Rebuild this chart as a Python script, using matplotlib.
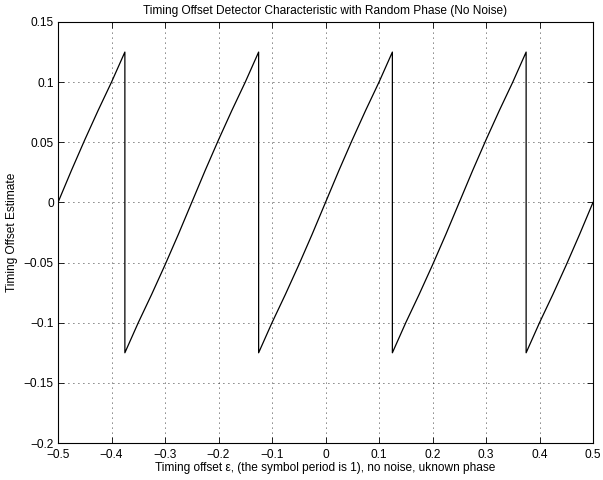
import matplotlib
matplotlib.use('Agg')
import matplotlib.pyplot as plt
import numpy as np

plt.rcParams['font.family'] = ['Liberation Sans', 'DejaVu Sans']

# one S-curve segment per symbol quarter, read as (offset from centre, estimate)
SEG_OFFSET = [-0.125, -0.1, -0.075, -0.05, -0.025, 0.0, 0.025, 0.05, 0.075, 0.1, 0.125]
SEG_VALUE = [-0.125, -0.100, -0.0765, -0.052, -0.0265, 0.0, 0.0265, 0.052, 0.0765, 0.100, 0.125]
# segment centres across the symbol period
CENTRES = [-0.5, -0.25, 0.0, 0.25, 0.5]
X_MIN, X_MAX = -0.5, 0.5

X_TICKS = [-0.5, -0.4, -0.3, -0.2, -0.1, 0, 0.1, 0.2, 0.3, 0.4, 0.5]
Y_TICKS = [-0.2, -0.15, -0.1, -0.05, 0, 0.05, 0.1, 0.15]

FS = 8.6


def tick_label(v):
    s = ('%g' % round(v, 4))
    return s.replace('-', '\u2212')


def main():
    xs, ys = [], []
    for c in CENTRES:
        for d, v in zip(SEG_OFFSET, SEG_VALUE):
            x = c + d
            if X_MIN - 1e-9 <= x <= X_MAX + 1e-9:
                xs.append(x)
                ys.append(v)
    xs = np.array(xs)
    ys = np.array(ys)

    fig = plt.figure(figsize=(6.03, 4.80), dpi=100)
    ax = fig.add_axes([58 / 603, 1 - 443 / 480, 535 / 603, 421 / 480])
    ax.plot(xs, ys, color='black', linewidth=0.9)

    ax.set_xlim(X_MIN, X_MAX)
    ax.set_ylim(-0.2, 0.15)
    ax.set_xticks(X_TICKS)
    ax.set_yticks(Y_TICKS)
    ax.set_xticklabels([tick_label(v) for v in X_TICKS])
    ax.set_yticklabels([tick_label(v) for v in Y_TICKS])
    ax.tick_params(direction='in', top=True, right=True, labelsize=FS,
                   length=4, width=0.6)
    ax.tick_params(axis='x', pad=4)
    ax.tick_params(axis='y', pad=3)
    ax.grid(True, linestyle=(0, (1, 5)), color='black', linewidth=0.6)
    for sp in ax.spines.values():
        sp.set_linewidth(0.8)

    ax.set_title('Timing Offset Detector Characteristic with Random Phase (No Noise)',
                 fontsize=FS, pad=6)
    ax.set_xlabel('Timing offset \u03b5, (the symbol period is 1), no noise, uknown phase',
                  fontsize=FS, labelpad=1)
    ax.set_ylabel('Timing Offset Estimate', fontsize=FS, labelpad=4)

    fig.savefig('out.png', dpi=100)


if __name__ == '__main__':
    main()
